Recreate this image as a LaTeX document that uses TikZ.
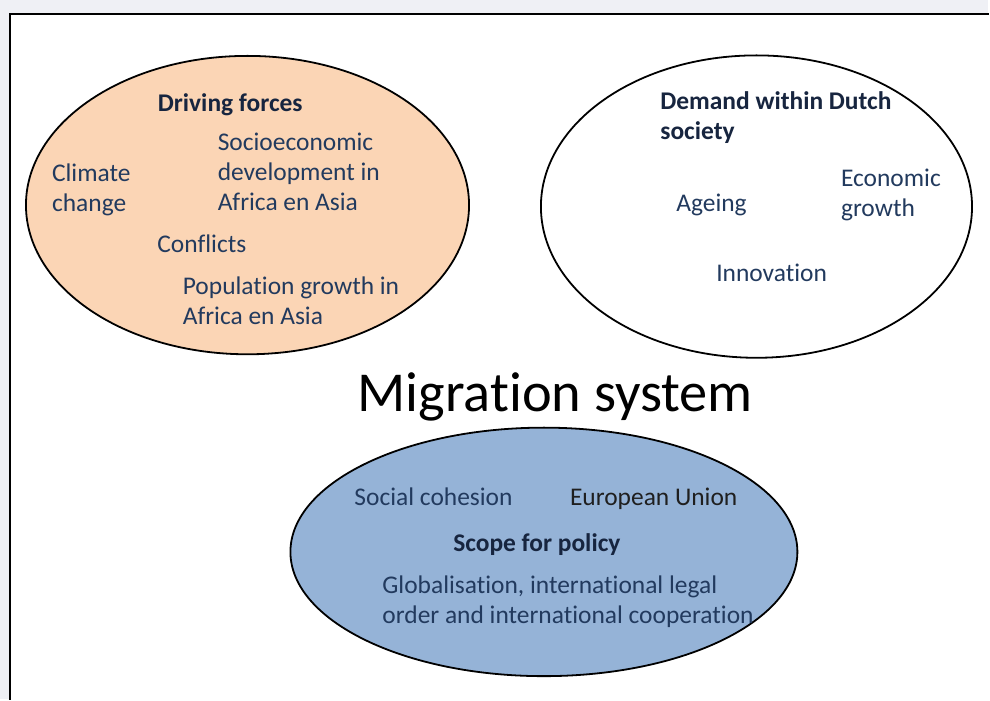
\documentclass[tikz,border=0pt]{standalone}
\usepackage{fontspec}
\setmainfont{Carlito}[Ligatures=NoCommon]
\usetikzlibrary{shapes.geometric}

\definecolor{pagegray}{HTML}{EFF0F5}
\definecolor{peach}{HTML}{FBD5B5}
\definecolor{steelblue}{HTML}{95B3D7}
\definecolor{navytext}{HTML}{223A5E}
\definecolor{navybold}{HTML}{17253F}

\tikzset{
  zonebubble/.style={ellipse, draw=black, line width=1.8pt, inner sep=0pt},
  % multi-line texts are placed by the baseline of their last line
  txtitem/.style={anchor=base west, inner sep=0pt, align=left, text=navytext,
    font=\fontsize{25.5}{30}\selectfont},
  txthead/.style={txtitem, text=navybold,
    font=\fontsize{25.5}{30}\selectfont\bfseries},
}

\begin{document}
\begin{tikzpicture}[x=1pt,y=-1pt]
  % page and frame
  \fill[pagegray] (0,0) rectangle (990,700);
  \fill[white] (10,14) rectangle (990,700);
  \draw[line width=2pt] (9.8,701) -- (9.8,14) -- (991,14);
  \useasboundingbox (0,0) rectangle (990,700);

  % the three domains
  \node[zonebubble, fill=peach, minimum width=444pt, minimum height=299pt]
    (driving) at (248,205.5) {};
  \node[zonebubble, fill=white, minimum width=432pt, minimum height=303pt]
    (demand) at (758,207) {};
  \node[zonebubble, fill=steelblue, minimum width=508pt, minimum height=249pt]
    (policy) at (545,553) {};

  % driving forces
  \node[txthead] (dfhead) at (158,112) {Driving forces};
  \node[txtitem] (climate) at (52,212) {Climate\\change};
  \node[txtitem] (socio) at (218,211) {Socioeconomic\\development in\\Africa en Asia};
  \node[txtitem] (conflicts) at (157.5,253) {Conflicts};
  \node[txtitem] (population) at (183,325) {Population growth in\\Africa en Asia};

  % demand within Dutch society
  \node[txthead] (demhead) at (661.5,139.5) {Demand within Dutch\\society};
  \node[txtitem] (ageing) at (677.5,211.5) {Ageing};
  \node[txtitem] (economic) at (842.5,216.5) {Economic\\growth};
  \node[txtitem] (innovation) at (717.5,282) {Innovation};

  % centre title
  \node[anchor=base west, inner sep=0pt, font=\fontsize{56.5}{68}\selectfont]
    (title) at (358,412) {Migration system};

  % scope for policy
  \node[txtitem] (cohesion) at (355,506.5) {Social cohesion};
  \node[txtitem, text=black!88] (eu) at (571,506.5) {European Union};
  \node[txthead] (scopehead) at (454,553) {Scope for policy};
  \node[txtitem] (global) at (383,625) {Globalisation, international legal\\order and international cooperation};
\end{tikzpicture}
\end{document}
